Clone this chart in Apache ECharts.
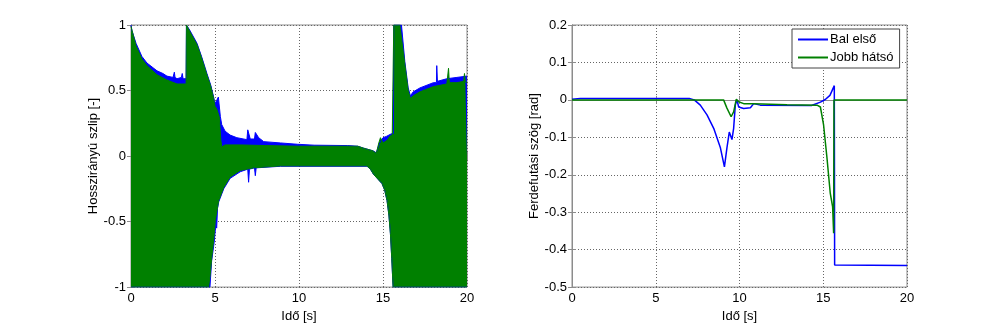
<!DOCTYPE html>
<html>
<head>
<meta charset="utf-8">
<script src="https://cdn.jsdelivr.net/npm/echarts@6/dist/echarts.min.js"></script>
<style>html,body{margin:0;padding:0;background:#fff}#c{width:1002px;height:328px}</style>
</head>
<body>
<div id="c"></div>
<script>
// ---- Left plot: longitudinal slip envelopes (time [s], value [-]) ----
const blueUpperT = [0,0.05,0.3,0.65,0.95,1.25,1.55,1.9,2.14,2.5,2.58,2.62,2.74,3.0,3.05,3.1,3.28,3.3,3.5,3.93,4.2,4.52,4.75,4.92,5.0,5.1,5.2,5.28,5.32,5.4,5.6,5.9,6.3,6.9,6.95,7.0,7.1,7.35,7.4,7.6,7.9,8.9,9.9,10.9,12.9,13.5,13.85,14.4,14.6,14.8,15.0,15.2,15.5,15.62,15.64,16.1,16.3,16.5,16.63,16.8,17.2,18.0,18.18,18.2,18.24,18.8,19.4,20];
const blueUpperV = [1.0,0.96,0.86,0.76,0.71,0.68,0.65,0.63,0.61,0.60,0.64,0.60,0.59,0.60,0.63,0.59,0.59,1.0,0.96,0.86,0.76,0.63,0.54,0.45,0.40,0.39,0.45,0.44,0.30,0.24,0.19,0.16,0.14,0.125,0.2,0.2,0.13,0.13,0.18,0.14,0.11,0.10,0.09,0.083,0.08,0.075,0.06,0.04,0.025,0.10,0.14,0.15,0.17,0.17,1.0,1.0,0.72,0.52,0.46,0.49,0.52,0.56,0.56,0.69,0.57,0.59,0.60,0.61];
const blueLowerT = [0,4.7,4.8,4.95,5.05,5.1,5.15,5.22,5.52,5.9,6.5,6.95,7.0,7.05,7.35,7.4,7.45,8.9,14.05,14.25,14.44,14.94,15.1,15.24,15.35,15.44,15.52,15.6,20];
const blueLowerV = [-1,-1,-0.8,-0.66,-0.52,-0.55,-0.4,-0.35,-0.25,-0.17,-0.12,-0.1,-0.2,-0.1,-0.09,-0.15,-0.09,-0.078,-0.078,-0.1,-0.14,-0.21,-0.26,-0.34,-0.45,-0.59,-0.78,-1,-1];
const greenUpperT = [0,0.3,0.65,0.95,1.55,2.14,2.74,3.0,3.28,3.3,3.5,3.93,4.2,4.52,4.75,4.92,5.0,5.1,5.25,5.35,5.4,5.6,6.5,8,10,13.5,13.85,14.4,14.6,14.75,14.85,14.95,15.0,15.25,15.4,15.55,15.62,15.64,16.0,16.3,16.5,16.63,16.8,17.2,18.0,18.8,18.9,18.95,19.4,19.8,19.85,19.9,20];
const greenUpperV = [0.99,0.84,0.74,0.69,0.62,0.58,0.55,0.55,0.55,1.0,0.95,0.85,0.75,0.62,0.53,0.44,0.38,0.36,0.30,0.12,0.07,0.085,0.085,0.08,0.075,0.075,0.06,0.04,0.02,0.10,0.14,0.15,0.10,0.12,0.15,0.16,0.15,1.0,1.0,0.70,0.50,0.44,0.46,0.49,0.53,0.55,0.67,0.56,0.56,0.57,0.63,0.57,0.56];
const greenLowerT = [0,4.62,4.72,4.82,4.92,5.02,5.22,5.52,5.9,6.5,7.3,8.9,14.05,14.25,14.44,14.94,15.1,15.24,15.35,15.44,15.52,15.6,20];
const greenLowerV = [-1,-1,-0.9,-0.76,-0.64,-0.49,-0.34,-0.24,-0.16,-0.11,-0.09,-0.075,-0.075,-0.1,-0.14,-0.21,-0.26,-0.34,-0.45,-0.59,-0.78,-1,-1];

// ---- Right plot: slip angle (time [s], value [rad]) ----
const balElsoT = [0,0.5,7.0,7.3,7.66,8.06,8.46,8.86,9.1,9.25,9.39,9.55,9.65,9.75,9.85,9.95,10.25,10.65,10.85,11.24,14.3,14.83,15.12,15.4,15.66,15.68,20];
const balElsoV = [0.002,0.004,0.004,0.0,-0.014,-0.04,-0.076,-0.128,-0.179,-0.128,-0.086,-0.106,-0.076,-0.014,0.0,-0.019,-0.023,-0.021,-0.01,-0.014,-0.015,-0.006,0.001,0.012,0.038,-0.441,-0.442];
const jobbHatsoT = [0,9.05,9.25,9.5,9.65,9.81,9.95,10.25,10.85,12.84,14.63,14.83,15.02,15.22,15.42,15.56,15.62,15.64,20];
const jobbHatsoV = [0,0,-0.022,-0.045,-0.032,0.002,-0.005,-0.01,-0.01,-0.013,-0.014,-0.019,-0.067,-0.154,-0.25,-0.286,-0.356,0,0];

const xTicks = [0, 5, 10, 15, 20];
const leftYTicks = [-1, -0.5, 0, 0.5, 1];
const rightYTicks = [-0.5, -0.4, -0.3, -0.2, -0.1, 0, 0.1, 0.2];
const legendNames = ['Bal első', 'Jobb hátsó'];

const zip = (t, v) => t.map((x, i) => [x, v[i]]);

const FONT = 'Liberation Sans';
const BORDER = '#8c8c8c';
const BLUE = '#0000ff';
const GREEN = '#008000';
const GRIDLINE = { show: true, lineStyle: { color: '#666', type: [1, 2], width: 1 } };

function xAxisCfg(gi) {
  return {
    type: 'value', gridIndex: gi, min: xTicks[0], max: xTicks[xTicks.length - 1], interval: 5,
    name: 'Idő [s]', nameLocation: 'middle', nameGap: 20,
    nameTextStyle: { fontFamily: FONT, fontSize: 13, color: '#000' },
    axisLine: { lineStyle: { color: BORDER } },
    axisTick: { inside: true, length: 4, lineStyle: { color: BORDER } },
    axisLabel: { fontFamily: FONT, fontSize: 13, color: '#000', margin: 5 },
    splitLine: GRIDLINE
  };
}
function xAxisTop(gi) {
  return {
    type: 'value', gridIndex: gi, position: 'top', min: xTicks[0], max: xTicks[xTicks.length - 1], interval: 5,
    axisLine: { show: true, lineStyle: { color: BORDER } },
    axisTick: { show: true, inside: true, length: 4, lineStyle: { color: BORDER } },
    axisLabel: { show: false }, splitLine: { show: false }
  };
}
function yAxisCfg(gi, ticks, interval, name, gap) {
  return {
    type: 'value', gridIndex: gi, min: ticks[0], max: ticks[ticks.length - 1], interval: interval,
    name: name, nameLocation: 'middle', nameGap: gap,
    nameTextStyle: { fontFamily: FONT, fontSize: 13, color: '#000' },
    axisLine: { show: true, lineStyle: { color: BORDER } },
    axisTick: { show: true, inside: true, length: 4, lineStyle: { color: BORDER } },
    axisLabel: { fontFamily: FONT, fontSize: 13, color: '#000', margin: 5 },
    splitLine: GRIDLINE
  };
}
function yAxisRight(gi, ticks, interval) {
  return {
    type: 'value', gridIndex: gi, position: 'right', min: ticks[0], max: ticks[ticks.length - 1], interval: interval,
    axisLine: { show: true, lineStyle: { color: BORDER } },
    axisTick: { show: true, inside: true, length: 4, lineStyle: { color: BORDER } },
    axisLabel: { show: false }, splitLine: { show: false }
  };
}
function areaSeries(t, v, color) {
  return {
    type: 'line', xAxisIndex: 0, yAxisIndex: 0, data: zip(t, v),
    symbol: 'none', silent: true, animation: false,
    lineStyle: { width: 1, color: color },
    itemStyle: { color: color },
    areaStyle: { color: color, opacity: 1 }
  };
}

const chart = echarts.init(document.getElementById('c'), null, { renderer: 'canvas' });
chart.setOption({
  animation: false,
  backgroundColor: '#fff',
  grid: [
    { left: 131, top: 25, width: 336, height: 266, show: true, borderColor: BORDER, borderWidth: 1, backgroundColor: '#fff' },
    { left: 572, top: 25, width: 335, height: 267, show: true, borderColor: BORDER, borderWidth: 1, backgroundColor: '#fff' }
  ],
  xAxis: [xAxisCfg(0), xAxisCfg(1), xAxisTop(0), xAxisTop(1)],
  yAxis: [
    yAxisCfg(0, leftYTicks, 0.5, 'Hosszirányú szlip [-]', 26),
    yAxisCfg(1, rightYTicks, 0.1, 'Ferdefutási szög [rad]', 31),
    yAxisRight(0, leftYTicks, 0.5),
    yAxisRight(1, rightYTicks, 0.1)
  ],
  legend: {
    show: true, orient: 'vertical', left: 792, top: 29,
    padding: [3, 6, 3, 6], itemGap: 3,
    itemWidth: 30, itemHeight: 2, icon: 'rect',
    borderColor: '#444', borderWidth: 1, backgroundColor: '#fff', borderRadius: 0,
    textStyle: { fontFamily: FONT, fontSize: 13, color: '#000', padding: [0, 0, 0, -3], lineHeight: 15 },
    data: legendNames
  },
  series: [
    areaSeries(blueUpperT, blueUpperV, BLUE),
    areaSeries(blueLowerT, blueLowerV, BLUE),
    areaSeries(greenUpperT, greenUpperV, GREEN),
    areaSeries(greenLowerT, greenLowerV, GREEN),
    {
      name: legendNames[0], type: 'line', xAxisIndex: 1, yAxisIndex: 1,
      data: zip(balElsoT, balElsoV), symbol: 'none',
      lineStyle: { width: 1.5, color: BLUE }, itemStyle: { color: BLUE }
    },
    {
      name: legendNames[1], type: 'line', xAxisIndex: 1, yAxisIndex: 1,
      data: zip(jobbHatsoT, jobbHatsoV), symbol: 'none',
      lineStyle: { width: 1.5, color: GREEN }, itemStyle: { color: GREEN }
    }
  ]
});
</script>
</body>
</html>
